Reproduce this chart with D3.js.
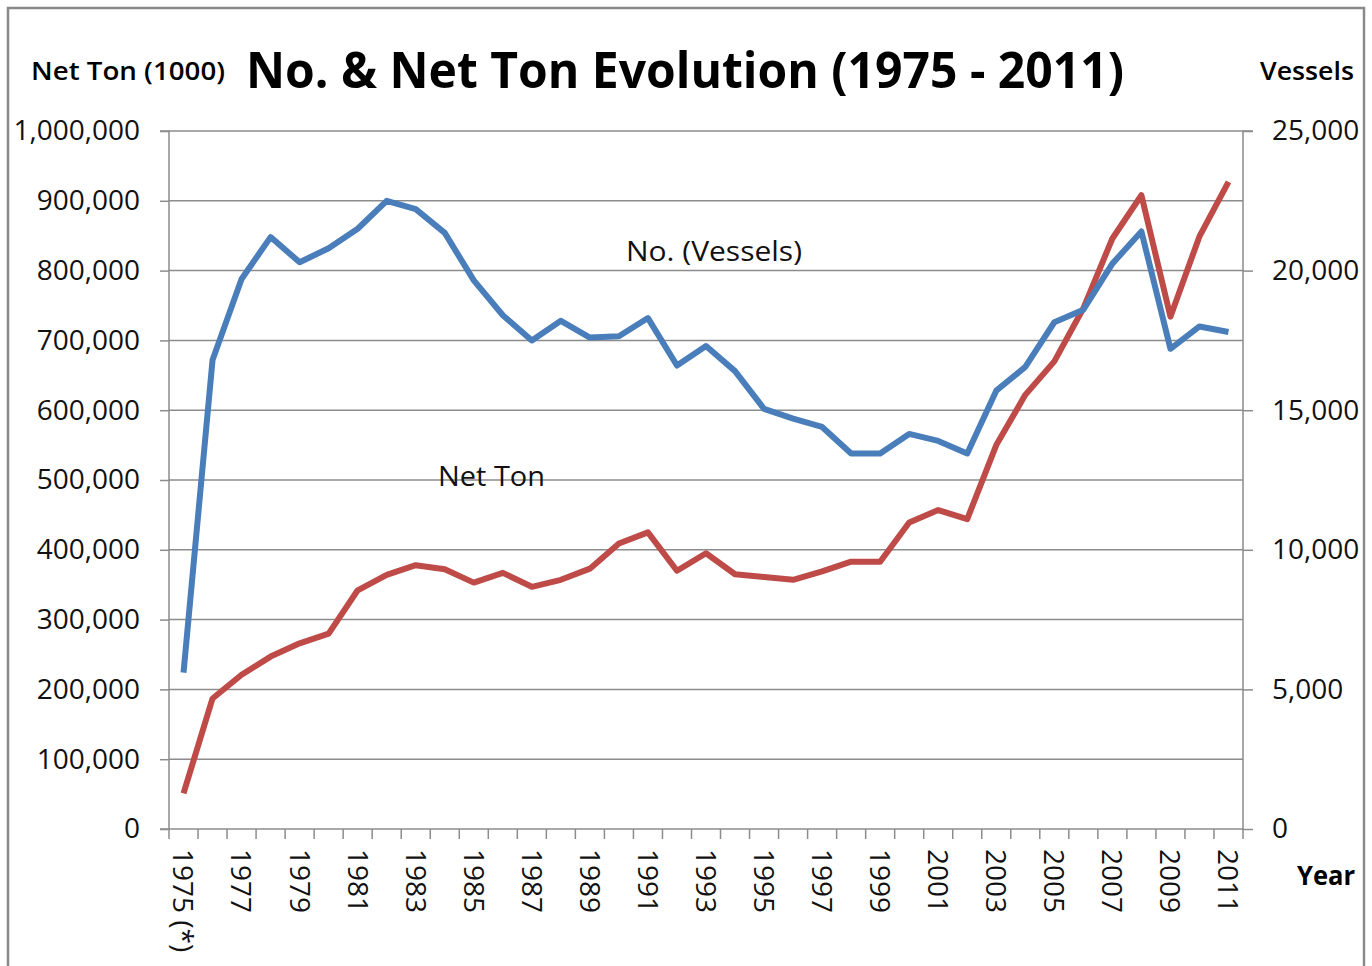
<!DOCTYPE html>
<html>
<head>
<meta charset="utf-8">
<script src="https://cdn.jsdelivr.net/npm/d3@7"></script>
<style>
  body { margin: 0; background: #fff; }
  svg { display: block; font-family: "Open Sans", sans-serif; }
</style>
</head>
<body>
<div id="chart"></div>
<script>
// years on the category axis
const years = d3.range(1975, 2012);
const yearLabels = years.map(y => y === 1975 ? "1975 (*)" : String(y));

// red line, left axis
const netTon = [51000, 187000, 221000, 247000, 266000, 280000, 342000, 364000, 378000, 372000,
  353000, 367000, 347000, 357000, 373000, 409000, 425000, 370000, 395000, 365000,
  361000, 357000, 369000, 383000, 383000, 439000, 457000, 444000, 550000, 622000,
  670000, 746000, 846000, 908000, 734000, 849000, 927000];

// blue line, right axis
const vessels = [5600, 16800, 19700, 21200, 20300, 20800, 21500, 22500, 22200, 21350,
  19650, 18400, 17500, 18200, 17600, 17650, 18300, 16600, 17300, 16400,
  15050, 14700, 14400, 13450, 13450, 14150, 13900, 13450, 15700, 16550,
  18150, 18600, 20250, 21400, 17200, 18000, 17800];

const leftTicks = d3.range(0, 1000001, 100000);
const rightTicks = d3.range(0, 25001, 5000);

const W = 1372, H = 966;
const plot = { left: 169, right: 1243, top: 131, bottom: 829 };
const gridColor = "#8c8c8c";
const blue = "#4A7EBB", red = "#BE4B48";

const svg = d3.select("#chart").append("svg")
  .attr("width", W)
  .attr("height", H);

// outer frame
svg.append("rect")
  .attr("x", 8).attr("y", 8)
  .attr("width", 1356).attr("height", 990)
  .attr("fill", "none")
  .attr("stroke", "#8a8a8a")
  .attr("stroke-width", 2.5);

const x = d3.scaleBand().domain(years).range([plot.left, plot.right]).padding(0);
const yL = d3.scaleLinear().domain([0, 1000000]).range([plot.bottom, plot.top]);
const yR = d3.scaleLinear().domain([0, 25000]).range([plot.bottom, plot.top]);
const cx = yr => x(yr) + x.bandwidth() / 2;

// gridlines
svg.append("g")
  .selectAll("line")
  .data(leftTicks.slice(1))
  .join("line")
    .attr("x1", plot.left).attr("x2", plot.right)
    .attr("y1", d => yL(d)).attr("y2", d => yL(d))
    .attr("stroke", gridColor)
    .attr("stroke-width", 1.5);

// left axis
const leftAxis = svg.append("g")
  .attr("transform", `translate(${plot.left},0)`)
  .call(d3.axisLeft(yL).tickValues(leftTicks).tickSize(9).tickPadding(20).tickFormat(d3.format(",")));

// right axis
const rightAxis = svg.append("g")
  .attr("transform", `translate(${plot.right},0)`)
  .call(d3.axisRight(yR).tickValues(rightTicks).tickSize(10).tickPadding(19).tickFormat(d3.format(",")));

// bottom axis: boundary ticks, labels on every other year
const xAxis = svg.append("g")
  .attr("transform", `translate(0,${plot.bottom})`);
xAxis.append("line")
  .attr("x1", plot.left - 9).attr("x2", plot.right)
  .attr("stroke", gridColor).attr("stroke-width", 1.5);
xAxis.selectAll("line.tick")
  .data(years.concat([null]))
  .join("line")
    .attr("class", "tick")
    .attr("x1", d => d === null ? plot.right : x(d))
    .attr("x2", d => d === null ? plot.right : x(d))
    .attr("y1", 0).attr("y2", 10)
    .attr("stroke", gridColor).attr("stroke-width", 1.5);
xAxis.selectAll("text")
  .data(years.filter((d, i) => i % 2 === 0))
  .join("text")
    .attr("transform", d => `translate(${cx(d)},20) rotate(90)`)
    .attr("dy", "0.36em")
    .attr("font-size", 28)
    .attr("fill", "#111")
    .text(d => yearLabels[years.indexOf(d)]);

[leftAxis, rightAxis].forEach(g => {
  g.select("path.domain").attr("stroke", gridColor).attr("stroke-width", 1.5);
  g.selectAll(".tick line").attr("stroke", gridColor).attr("stroke-width", 1.5);
  g.selectAll(".tick text").attr("font-size", 28).attr("fill", "#111")
    .attr("font-family", "Open Sans, sans-serif");
});
leftAxis.select("path.domain").attr("d", `M-9,${plot.top}H0V${plot.bottom}`);
rightAxis.select("path.domain").attr("d", `M10,${plot.top}H0V${plot.bottom + 1}`);

// lines
const lineL = d3.line().x((d, i) => cx(years[i])).y(d => yL(d));
const lineR = d3.line().x((d, i) => cx(years[i])).y(d => yR(d));

svg.append("path")
  .datum(netTon)
  .attr("fill", "none")
  .attr("stroke", red)
  .attr("stroke-width", 6)
  .attr("stroke-linejoin", "round")
  .attr("d", lineL);

svg.append("path")
  .datum(vessels)
  .attr("fill", "none")
  .attr("stroke", blue)
  .attr("stroke-width", 6)
  .attr("stroke-linejoin", "round")
  .attr("d", lineR);

// titles and labels
svg.append("text")
  .attr("x", 246).attr("y", 88)
  .attr("font-size", 50).attr("font-weight", 700)
  .attr("textLength", 878).attr("lengthAdjust", "spacingAndGlyphs")
  .text("No. & Net Ton Evolution (1975 - 2011)");

svg.append("text")
  .attr("x", 31).attr("y", 80)
  .attr("font-size", 25).attr("font-weight", 600)
  .attr("textLength", 194).attr("lengthAdjust", "spacingAndGlyphs")
  .text("Net Ton (1000)");

svg.append("text")
  .attr("x", 1260).attr("y", 80)
  .attr("font-size", 25).attr("font-weight", 600)
  .attr("textLength", 94).attr("lengthAdjust", "spacingAndGlyphs")
  .text("Vessels");

svg.append("text")
  .attr("x", 1297).attr("y", 885)
  .attr("font-size", 26).attr("font-weight", 700)
  .attr("textLength", 58).attr("lengthAdjust", "spacingAndGlyphs")
  .text("Year");

svg.append("text")
  .attr("x", 626).attr("y", 261)
  .attr("font-size", 27)
  .attr("fill", "#111")
  .attr("textLength", 176).attr("lengthAdjust", "spacingAndGlyphs")
  .text("No. (Vessels)");

svg.append("text")
  .attr("x", 438).attr("y", 486)
  .attr("font-size", 27)
  .attr("fill", "#111")
  .attr("textLength", 107).attr("lengthAdjust", "spacingAndGlyphs")
  .text("Net Ton");
</script>
</body>
</html>
